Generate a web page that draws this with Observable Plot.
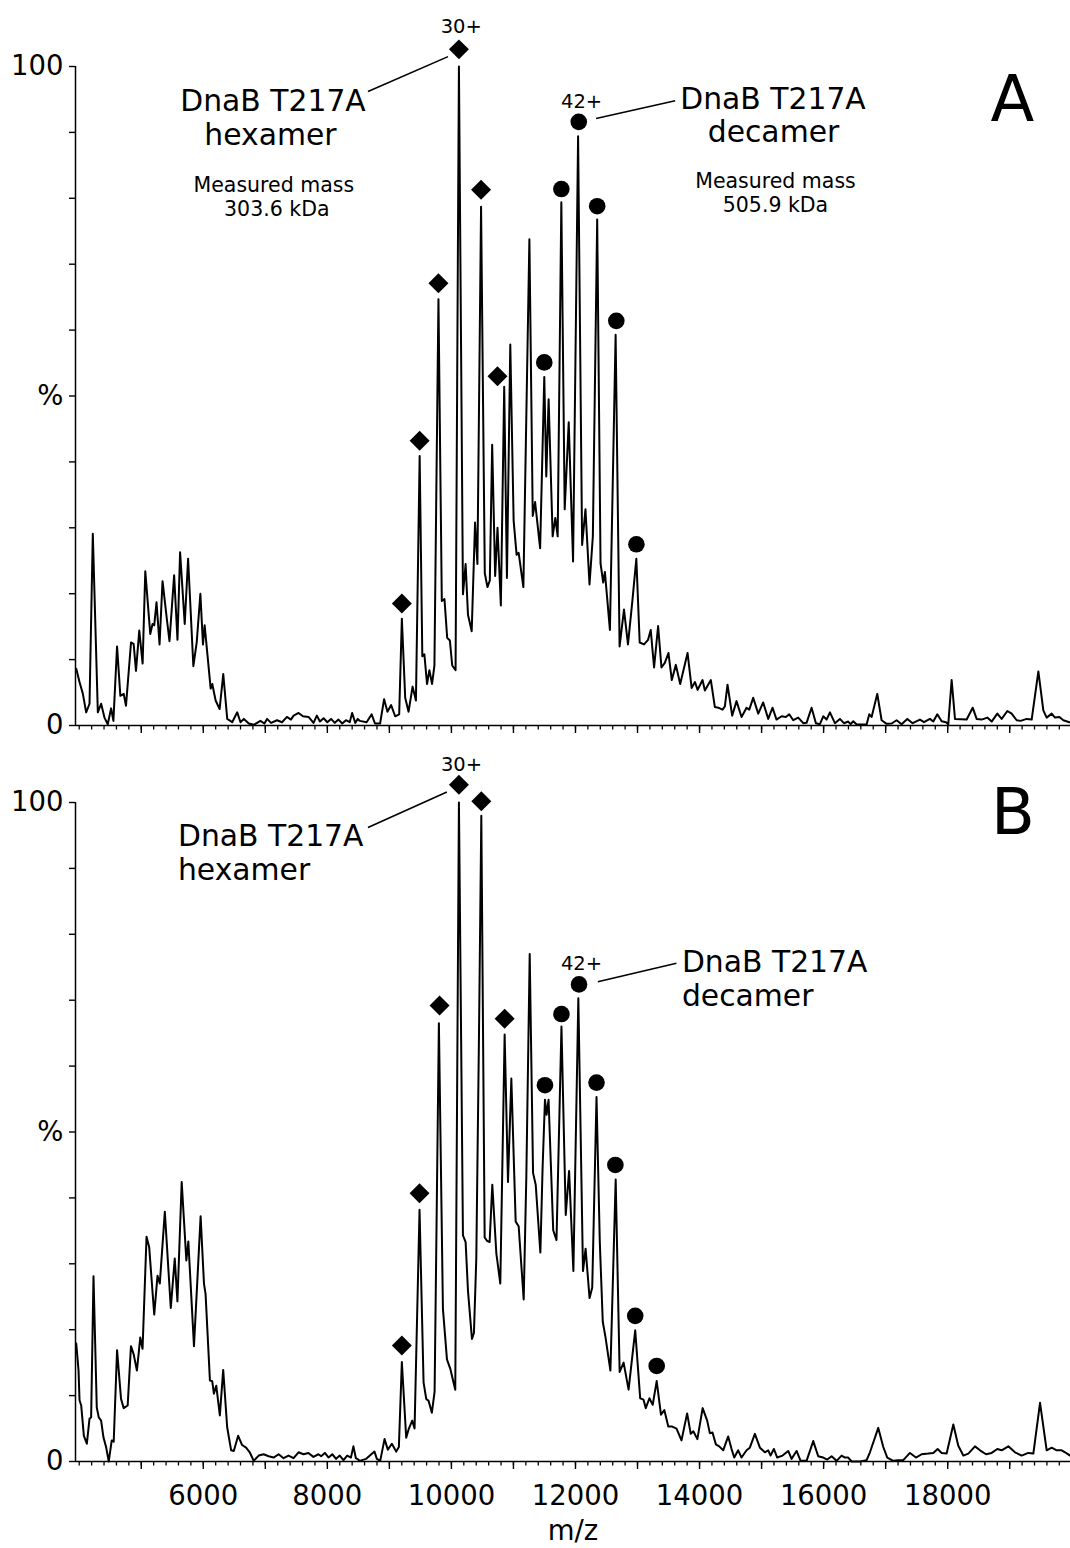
<!DOCTYPE html>
<html>
<head>
<meta charset="utf-8">
<script src="https://cdn.jsdelivr.net/npm/d3@7"></script>
<script src="https://cdn.jsdelivr.net/npm/@observablehq/plot@0.6"></script>
<style>
  html, body { margin: 0; padding: 0; background: #fff; }
  #chart svg { display: block; }
</style>
</head>
<body>
<div id="chart"></div>
<script>
// ---------- data (m/z, relative intensity %) ----------
const spectrumA = [
  [3952,8.6],[4005,6.6],[4059,4.8],[4112,2.0],[4166,3.3],[4219,29.1],[4300,2.0],[4353,3.3],[4407,1.2],[4460,0.2],
  [4514,2.6],[4551,0.7],[4610,12.0],[4663,4.5],[4717,4.8],[4754,3.0],[4835,12.6],[4877,12.4],[4915,8.3],[4968,14.4],
  [5022,9.4],[5065,23.4],[5145,13.9],[5182,15.4],[5209,15.2],[5246,18.7],[5295,12.3],[5343,21.9],[5412,16.2],[5455,12.8],
  [5530,22.8],[5584,13.0],[5626,26.3],[5701,15.4],[5755,25.3],[5840,9.0],[5894,12.6],[5953,20.0],[5995,12.3],[6022,15.2],
  [6119,5.6],[6145,6.3],[6199,3.8],[6263,2.5],[6322,7.8],[6386,1.0],[6466,0.5],[6547,2.0],[6600,0.5],[6654,1.0],
  [6734,0.3],[6814,0.1],[6921,0.7],[6985,0.3],[7028,1.0],[7092,0.4],[7189,0.8],[7269,0.5],[7349,1.3],[7413,0.9],
  [7456,1.5],[7536,1.9],[7606,1.4],[7697,1.3],[7777,0.4],[7831,1.5],
  [7880,0.6],[7940,1.1],[8000,0.5],[8060,1.0],[8120,0.4],[8180,0.9],[8240,0.3],[8300,0.8],[8360,0.5],[8400,1.9],
  [8450,0.4],[8490,1.0],
  [8525,0.7],[8633,0.5],[8714,1.7],[8768,0.3],[8850,0.3],[8915,4.0],[8969,2.1],[9028,3.1],[9093,1.4],[9158,1.7],
  [9201,16.2],[9255,4.2],[9309,2.1],[9374,5.9],[9428,3.8],[9488,40.9],[9531,10.5],[9564,10.8],[9607,6.3],[9645,8.4],
  [9688,6.3],[9726,9.1],[9791,64.7],[9845,18.9],[9888,19.2],[9932,13.3],[9975,12.9],[10013,9.1],[10067,8.4],[10121,100],
  [10186,19.9],[10229,24.5],[10267,16.8],[10327,14.3],[10381,30.8],[10419,24.5],[10478,78.7],[10538,23.1],[10581,21.0],[10619,22.0],
  [10657,42.6],[10705,22.7],[10743,30.0],[10797,18.2],[10851,51.4],[10895,22.4],[10949,57.8],[11003,31.1],[11051,25.9],[11084,26.2],
  [11160,21.0],[11257,73.8],[11311,31.8],[11349,33.9],[11430,26.9],
  [11497,52.9],[11529,37.8],[11567,49.5],[11632,28.7],[11675,31.5],[11713,28.7],[11772,79.4],[11826,32.8],[11891,46.0],[11961,24.9],
  [12042,89.4],[12107,27.4],[12161,32.8],[12226,21.4],[12280,28.7],[12350,76.8],[12404,24.6],[12447,21.7],[12474,23.3],[12555,14.5],
  [12647,59.3],[12711,12.0],[12782,17.6],[12846,12.3],[12917,18.9],[12981,25.3],[13035,12.6],[13105,12.3],[13170,13.0],[13213,14.5],
  [13267,8.8],[13332,15.1],[13386,8.8],[13440,9.5],[13499,11.0],[13553,6.9],[13618,9.2],[13688,6.3],[13807,11.0],[13872,5.7],
  [13926,6.6],[13969,5.4],
  [14048,6.9],[14086,5.3],[14182,6.9],[14247,2.8],[14301,2.7],[14371,2.4],[14408,2.9],[14451,6.2],[14526,1.5],[14596,3.7],
  [14677,1.3],[14758,2.7],[14801,2.4],[14865,4.2],[14946,1.8],[15026,3.5],[15107,1.0],[15177,2.7],[15241,0.9],[15322,1.4],
  [15392,1.3],[15446,1.7],[15510,0.8],[15591,1.2],[15672,0.35],[15725,0.4],[15806,2.7],[15876,0.35],[15940,0.2],[15994,1.4],
  [16048,0.9],[16102,2.0],[16182,0.35],[16263,1.0],[16327,0.35],[16397,0.6],[16435,0.2],[16478,0.65],[16532,0.15],[16693,0.15],
  [16736,1.7],[16774,1.3],[16865,4.8],[16935,0.8],[17016,0.25],[17096,0.3],[17177,0.8],[17257,0.2],[17349,1.0],[17435,0.35],
  [17553,0.9],[17618,0.5],[17714,1.0],[17768,0.6],[17833,1.7],[17903,0.65],[17973,0.5],[18010,0.2],[18064,6.9],[18118,1.0],
  [18306,0.9],[18403,2.7],[18467,1.0],[18548,0.9],[18639,1.2],[18709,0.6],[18800,1.8],[18870,1.0],[18962,2.2],[19032,1.8],
  [19112,0.8],[19177,0.7],[19273,1.0],[19354,0.9],[19462,8.2],[19542,2.3],[19596,1.2],[19677,1.8],[19730,1.2],[19800,1.3],
  [19865,0.8],[19962,0.5]
];

const spectrumB = [
  [3952,17.9],[3989,13.8],[4005,9.3],[4032,8.5],[4075,3.9],[4123,2.7],[4166,6.5],[4192,6.7],[4230,28.1],[4283,8.2],
  [4315,6.7],[4353,6.2],[4390,3.7],[4433,2.2],[4476,0],[4524,3.2],[4556,3.0],[4610,16.9],[4674,9.5],[4717,8.1],
  [4781,8.5],[4834,17.5],[4877,16.3],[4930,13.8],[4984,18.8],[5021,17.1],[5085,34.1],[5128,32.5],[5209,22.3],[5262,28.2],
  [5299,27.0],[5380,37.9],[5476,23.3],[5540,30.8],[5583,24.3],[5652,42.4],[5727,30.5],[5759,33.4],[5850,17.5],[5957,37.2],
  [6011,27.0],[6037,25.4],[6107,12.3],[6144,12.2],[6171,10.3],[6209,11.5],[6267,7.0],[6321,13.9],[6385,5.2],[6449,1.7],
  [6492,1.6],[6562,3.9],[6626,2.5],[6690,2.1],[6749,1.4],[6813,0.1],[6893,0.9],[6973,1.1],[7054,0.8],[7134,0.6],
  [7214,1.1],[7294,0.5],[7374,0.9],[7455,0.5],[7535,1.4],[7615,1.1],[7695,1.3],[7775,0.7],[7856,1.1],
  [7900,0.8],[7960,1.3],[8020,0.6],[8080,1.1],[8140,0.4],[8200,0.9],[8260,0.2],[8320,0.9],[8380,0.6],[8420,2.3],
  [8460,0.5],[8500,0.3],
  [8518,0.1],[8626,0.4],[8760,1.5],[8798,0.4],[8852,0.1],[8922,3.4],[8975,1.8],[9040,2.7],[9110,1.5],[9153,2.2],
  [9201,15.1],[9271,3.6],[9314,5.0],[9368,6.2],[9406,5.0],[9486,38.2],[9551,12.0],[9594,9.5],[9632,9.2],[9685,7.4],
  [9729,10.6],[9798,66.5],[9863,23.2],[9928,15.5],[9981,14.1],[10062,10.9],[10121,100],[10186,34.3],[10229,33.3],[10267,25.9],
  [10331,18.6],[10363,19.5],[10401,30.8],[10444,64.4],[10482,98.0],[10536,34.0],[10573,33.5],[10616,33.3],[10659,42.0],[10724,31.6],
  [10788,27.0],[10858,64.8],[10912,42.4],[10966,58.1],[11036,36.4],[11084,35.7],[11165,24.6],[11208,43.4],[11262,77.0],[11316,43.8],
  [11359,42.0],[11434,31.7],
  [11470,44.6],[11508,54.9],[11534,52.6],[11566,54.9],[11641,35.1],[11694,33.6],[11774,66.0],[11843,37.4],[11897,44.1],[11966,28.9],
  [12046,70.3],[12121,28.9],[12163,32.3],[12227,24.8],[12270,26.4],[12339,55.3],[12392,33.3],[12440,21.2],[12483,18.9],[12563,13.8],
  [12648,42.8],[12712,13.6],[12776,15.0],[12856,10.9],[12963,19.9],[13043,9.6],[13096,9.4],[13133,8.1],[13192,9.6],[13245,8.6],
  [13309,12.2],[13378,7.1],[13432,7.8],[13496,5.3],[13560,5.3],[13629,5.0],[13709,3.2],[13800,7.3],[13858,4.2],[13900,4.6],
  [13965,3.4],
  [14050,8.1],[14123,6.2],[14166,4.3],[14209,4.4],[14263,2.6],[14317,2.3],[14381,1.7],[14462,3.8],[14516,1.9],[14559,0.6],
  [14623,1.7],[14677,0.6],[14758,1.7],[14811,2.1],[14892,4.2],[14973,2.1],[15053,1.4],[15107,1.7],[15145,0.9],[15198,1.9],
  [15252,0.6],[15338,0.9],[15430,1.6],[15483,0.4],[15564,1.6],[15629,0.1],[15725,0.1],[15833,3.1],[15913,0.8],[15994,0.6],
  [16059,0.3],[16129,0.8],[16209,0.1],[16290,0.9],[16344,0.6],[16397,0.6],[16451,0],[16585,0],[16693,0.2],[16747,1.4],
  [16881,5.1],[16962,2.2],[17026,0.6],[17123,0.1],[17204,0.2],[17284,0.2],[17392,1.3],[17489,0.6],[17580,1.1],[17688,1.2],
  [17768,1.3],[17838,1.9],[17903,1.3],[17983,1.2],[18091,5.6],[18171,2.4],[18252,0.9],[18333,1.2],[18440,2.3],[18521,1.7],
  [18618,1.1],[18709,1.3],[18800,1.9],[18870,1.7],[18978,2.3],[19085,1.4],[19193,0.9],[19300,1.3],[19381,1.2],[19489,8.9],
  [19596,1.7],[19677,2.1],[19757,1.7],[19838,1.7],[19892,1.4],[19972,0.9]
];

// charge-state markers (m/z, marker height %)
const hexMarkA = [[9201,18.5],[9488,43.2],[9791,67.1],[10121,102.6],[10478,81.3],[10743,53.0]];
const decMarkA = [[11497,55.1],[11772,81.4],[12053,91.6],[12350,78.8],[12658,61.4],[12982,27.5]];
const hexMarkB = [[9201,17.6],[9486,40.7],[9809,69.2],[10121,102.7],[10482,100.2],[10858,67.2]];
const decMarkB = [[11508,57.1],[11774,67.9],[12057,72.4],[12339,57.5],[12643,45.0],[12963,22.1],[13309,14.5]];

// leader lines [mz1, pct1, mz2, pct2]
const leadersA = [[8655,96.2,9945,101.5],[12332,92.1,13607,94.8]];
const leadersB = [[8655,96.2,9927,101.6],[12360,72.8,13628,75.6]];

// annotation texts
const chargeA = [{mz:10159, pct:106.1, text:"30+"}, {mz:12099, pct:94.7, text:"42+"}];
const chargeB = [{mz:10162, pct:105.7, text:"30+"}, {mz:12097, pct:75.6, text:"42+"}];
const namesA = [
  {mz:7124, pct:94.7, text:"DnaB T217A"}, {mz:7083, pct:89.6, text:"hexamer"},
  {mz:15184, pct:95.0, text:"DnaB T217A"}, {mz:15192, pct:90.0, text:"decamer"}
];
const massA = [
  {mz:7137, pct:82.0, text:"Measured mass"}, {mz:7185, pct:78.3, text:"303.6 kDa"},
  {mz:15224, pct:82.6, text:"Measured mass"}, {mz:15224, pct:78.9, text:"505.9 kDa"}
];
const namesB = [
  {mz:5592, pct:94.9, text:"DnaB T217A"}, {mz:5592, pct:89.7, text:"hexamer"},
  {mz:13716, pct:75.8, text:"DnaB T217A"}, {mz:13716, pct:70.5, text:"decamer"}
];
const letterA = [{mz:19044, pct:94.9, text:"A"}];
const letterB = [{mz:19052, pct:98.4, text:"B"}];

const xDomain = [3940, 19980];
const yTicks = d3.range(0, 101, 10);
const yTickLabels = {0: "0", 50: "%", 100: "100"};
const xMinorTicks = d3.range(4000, 19801, 200);
const xMajorTicks = d3.range(5000, 19001, 1000);
const xLabel = "m/z";

const FONT = "DejaVu Sans, Liberation Sans, sans-serif";

function panel(o) {
  const marks = [
    Plot.ruleY([0], {strokeWidth: 1.5}),
    Plot.ruleX([xDomain[0]], {y1: 0, y2: 100, strokeWidth: 1.5}),
    Plot.axisY({ticks: yTicks, tickSize: 6, tickPadding: 6, strokeWidth: 1.4,
      tickFormat: d => yTickLabels[d] ?? "", label: null}),
    Plot.axisX({ticks: xMinorTicks, tickSize: 4.5, strokeWidth: 1.3, tickFormat: () => "", label: null}),
    Plot.axisX({ticks: xMajorTicks, tickSize: 8, tickPadding: 16, strokeWidth: 1.4,
      tickFormat: d => (o.xLabels && d % 2000 === 0) ? String(d) : "", label: null}),
    Plot.line(o.spectrum, {x: d => d[0], y: d => d[1], stroke: "black", strokeWidth: 2, strokeLinejoin: "round"}),
    Plot.link(o.leaders, {x1: d => d[0], y1: d => d[1], x2: d => d[2], y2: d => d[3], stroke: "black", strokeWidth: 1.6}),
    Plot.dot(o.hex, {x: d => d[0], y: d => d[1], r: 9, symbol: d3.symbolDiamond2, fill: "black"}),
    Plot.dot(o.dec, {x: d => d[0], y: d => d[1], r: 8.3, fill: "black"}),
    Plot.text(o.charge, {x: "mz", y: "pct", text: "text", fontSize: 19.5, textAnchor: "middle", lineAnchor: "middle", fill: "black"}),
    Plot.text(o.names, {x: "mz", y: "pct", text: "text", fontSize: 29.8, textAnchor: o.nameAnchor, lineAnchor: "middle", fill: "black"}),
    Plot.text(o.letter, {x: "mz", y: "pct", text: "text", fontSize: 64, textAnchor: "middle", lineAnchor: "middle", fill: "black"})
  ];
  if (o.mass) marks.push(Plot.text(o.mass, {x: "mz", y: "pct", text: "text", fontSize: 20.5, textAnchor: "middle", lineAnchor: "middle", fill: "black"}));
  if (o.xLabels) marks.push(Plot.text([xLabel], {frameAnchor: "bottom", dy: 70, fontSize: 27.5, textAnchor: "middle", lineAnchor: "middle", fill: "black"}));
  return Plot.plot({
    width: 1070,
    height: o.height,
    marginLeft: 75,
    marginRight: 0,
    marginTop: 66,
    marginBottom: o.marginBottom,
    style: {fontFamily: FONT, fontSize: "27.5px", background: "white", color: "black", overflow: "visible"},
    x: {domain: xDomain, label: null},
    y: {domain: [0, 100], label: null},
    marks
  });
}

const chart = document.getElementById("chart");
chart.appendChild(panel({
  spectrum: spectrumA, hex: hexMarkA, dec: decMarkA, leaders: leadersA,
  charge: chargeA, names: namesA, nameAnchor: "middle", mass: massA, letter: letterA,
  height: 736, marginBottom: 11, xLabels: false
}));
chart.appendChild(panel({
  spectrum: spectrumB, hex: hexMarkB, dec: decMarkB, leaders: leadersB,
  charge: chargeB, names: namesB, nameAnchor: "start", mass: null, letter: letterB,
  height: 812, marginBottom: 87, xLabels: true
}));
</script>
</body>
</html>
